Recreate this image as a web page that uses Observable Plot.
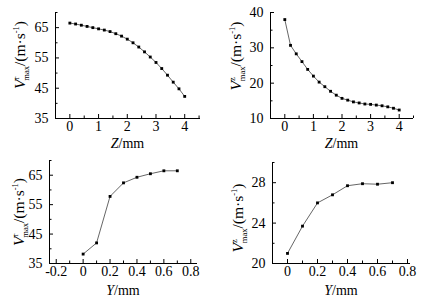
<!DOCTYPE html>
<html><head><meta charset="utf-8">
<script src="https://cdn.jsdelivr.net/npm/d3@7"></script>
<script src="https://cdn.jsdelivr.net/npm/@observablehq/plot@0.6"></script>
<style>
body{margin:0;background:#fff;}
#wrap{position:relative;width:426px;height:300px;overflow:hidden;}
#wrap > div{position:absolute;}
svg{font-family:"Liberation Serif",serif;}
</style></head><body><div id="wrap"></div>
<script>
// Data
const zPos = [0,0.2,0.4,0.6,0.8,1,1.2,1.4,1.6,1.8,2,2.2,2.4,2.6,2.8,3,3.2,3.4,3.6,3.8,4];
const vrZ = [66.5,66.2,65.8,65.4,65.0,64.6,64.2,63.7,63.0,62.2,61.2,60.0,58.6,57.0,55.3,53.5,51.5,49.3,47.0,44.8,42.3];
const vzZ = [38.0,30.7,28.3,26.1,23.9,22.0,20.3,19.0,17.7,16.6,15.7,15.2,14.7,14.4,14.1,14.0,13.8,13.6,13.3,12.9,12.4];
const yPos = [0,0.1,0.2,0.3,0.4,0.5,0.6,0.7];
const vrY = [38.2,42.0,57.8,62.4,64.3,65.5,66.5,66.5];
const vzY = [21.0,23.7,26.0,26.8,27.7,27.9,27.85,28.0];

// Ticks
const zTicks = [0,1,2,3,4];
const zMinor = [-0.5,0.5,1.5,2.5,3.5,4.5];
const vrTicks = [35,45,55,65];
const vrMinor = [40,50,60,70];
const vzTicks = [10,20,30,40];
const vzMinor = [15,25,35];
const yTicks = [-0.2,0,0.2,0.4,0.6,0.8];
const yMinor = [-0.1,0.1,0.3,0.5,0.7];
const yTicks2 = [0,0.2,0.4,0.6,0.8];
const vzYTicks = [20,24,28];
const vzYMinor = [22,26,30];

const wrap = document.getElementById("wrap");

function panel(o) {
  const W = 213, H = 150;
  const data = o.xs.map((x, i) => ({x, y: o.ys[i]}));
  const innerW = W - o.ml - o.mr, innerH = H - o.mt - o.mb;
  const fmt = d => String(d);
  const plot = Plot.plot({
    width: W, height: H,
    marginLeft: o.ml, marginRight: o.mr, marginTop: o.mt, marginBottom: o.mb,
    style: {fontFamily: "Liberation Serif, serif", fontSize: "14px", color: "black", background: "transparent", overflow: "visible"},
    x: {domain: o.xDomain, label: null},
    y: {domain: o.yDomain, label: null},
    marks: [
      Plot.ruleY([o.yDomain[0]], {stroke: "black", strokeWidth: 1}),
      Plot.ruleX([o.xDomain[0]], {stroke: "black", strokeWidth: 1}),
      Plot.tickX(o.xTicks, {x: d => d, insetTop: innerH - 4, stroke: "black"}),
      Plot.tickX(o.xMinor, {x: d => d, insetTop: innerH - 2.5, stroke: "black"}),
      Plot.tickY(o.yTicks, {y: d => d, insetRight: innerW - 4, stroke: "black"}),
      Plot.tickY(o.yMinor, {y: d => d, insetRight: innerW - 2.5, stroke: "black"}),
      Plot.axisX(o.xTicks, {tickSize: 0, tickPadding: 3, tickFormat: fmt, fontSize: 14}),
      Plot.axisY(o.yTicks, {tickSize: 0, tickPadding: 7, tickFormat: fmt, fontSize: 14}),
      Plot.line(data, {x: "x", y: "y", stroke: "#555", strokeWidth: 0.9}),
      Plot.dot(data, {x: "x", y: "y", symbol: "square", r: 1.6, fill: "black", stroke: null})
    ]
  });
  const svg = d3.select(plot);
  // x label
  const xl = svg.append("text")
    .attr("x", o.ml + innerW / 2 + (o.xlDx || 0)).attr("y", o.xlY)
    .attr("text-anchor", "middle").attr("font-size", 14).attr("fill", "black");
  xl.append("tspan").attr("font-style", "italic").text(o.xName);
  xl.append("tspan").text("/mm");
  // y label
  const yl = svg.append("text")
    .attr("transform", `translate(${o.ylX},${o.ylY}) rotate(-90)`)
    .attr("text-anchor", "middle").attr("font-size", 15.5).attr("fill", "black");
  yl.append("tspan").attr("font-style", "italic").text("V");
  yl.append("tspan").attr("font-size", 8.5).attr("dy", -6).text(o.sup);
  yl.append("tspan").attr("font-size", 8.5).attr("dx", -4).attr("dy", 10).text("max");
  yl.append("tspan").attr("dy", -4).text("/(m·s");
  yl.append("tspan").attr("font-size", 8.5).attr("dy", -6).text("-1");
  yl.append("tspan").attr("dy", 6).text(")");
  const div = document.createElement("div");
  div.style.left = o.left + "px";
  div.style.top = o.top + "px";
  div.appendChild(plot);
  wrap.appendChild(div);
}

panel({left: 0, top: 0, xs: zPos, ys: vrZ, xDomain: [-0.5, 4.55], yDomain: [35, 70],
  xTicks: zTicks, xMinor: zMinor, yTicks: vrTicks, yMinor: vrMinor,
  ml: 55, mr: 13, mt: 12, mb: 32, xName: "Z", xlY: 148, ylX: 25, ylY: 55, sup: "r"});
panel({left: 213, top: 0, xs: zPos, ys: vzZ, xDomain: [-0.5, 4.5], yDomain: [10, 40],
  xTicks: zTicks, xMinor: zMinor, yTicks: vzTicks, yMinor: vzMinor,
  ml: 57, mr: 13, mt: 12, mb: 32, xName: "Z", xlY: 148, ylX: 28, ylY: 56, sup: "z"});
panel({left: 0, top: 150, xs: yPos, ys: vrY, xDomain: [-0.25, 0.85], yDomain: [35, 70],
  xTicks: yTicks, xMinor: yMinor, yTicks: vrTicks, yMinor: vrMinor,
  ml: 49, mr: 16, mt: 10, mb: 37, xName: "Y", xlY: 145, ylX: 24, ylY: 62, sup: "r"});
panel({left: 213, top: 150, xs: yPos, ys: vzY, xDomain: [-0.1, 0.82], yDomain: [20, 30],
  xTicks: yTicks2, xMinor: yMinor, yTicks: vzYTicks, yMinor: vzYMinor,
  ml: 59, mr: 16, mt: 12, mb: 37, xName: "Y", xlY: 145, ylX: 30, ylY: 68, sup: "z"});
</script>
</body></html>
